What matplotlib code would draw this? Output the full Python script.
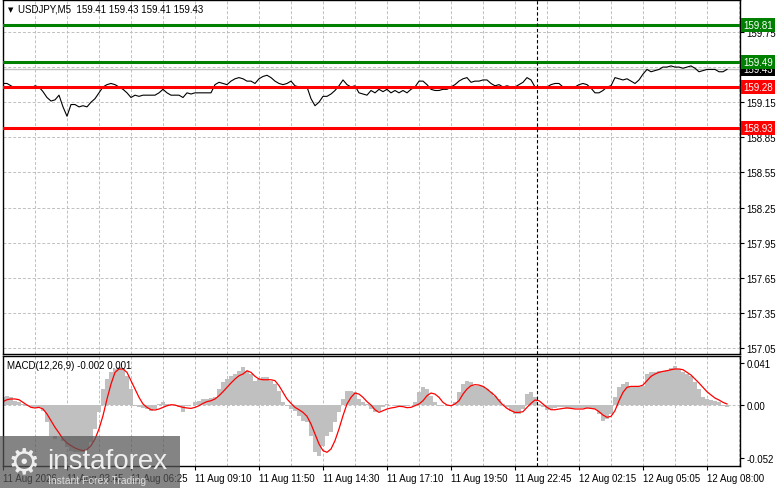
import matplotlib
matplotlib.use("Agg")
import matplotlib.pyplot as plt
import matplotlib.transforms as mtransforms
from matplotlib.patches import Rectangle
import numpy as np

plt.rcParams['font.family'] = ['Liberation Sans', 'DejaVu Sans']

# Cours de cloture USDJPY M5, une valeur tous les 2 bars
closes = [
    159.31, 159.31, 159.29, 159.27, 159.27, 159.27, 159.28, 159.27, 159.29, 159.28,
    159.24, 159.19, 159.16, 159.17, 159.21, 159.11, 159.03, 159.13, 159.13, 159.11,
    159.12, 159.11, 159.15, 159.18, 159.23, 159.28, 159.30, 159.31, 159.30, 159.28,
    159.26, 159.23, 159.19, 159.21, 159.20, 159.21, 159.21, 159.21, 159.21, 159.23,
    159.26, 159.23, 159.21, 159.21, 159.21, 159.19, 159.23, 159.22, 159.23, 159.23,
    159.23, 159.23, 159.23, 159.30, 159.32, 159.31, 159.30, 159.33, 159.35, 159.36,
    159.35, 159.33,
    159.33, 159.31, 159.35, 159.37, 159.38, 159.36, 159.33, 159.31, 159.30, 159.31,
    159.33, 159.29, 159.28, 159.28, 159.28, 159.18, 159.12, 159.15, 159.20, 159.20,
    159.22, 159.25, 159.29, 159.34, 159.30, 159.28, 159.29, 159.23, 159.22, 159.21,
    159.25, 159.23, 159.26, 159.24, 159.26, 159.23, 159.25, 159.23, 159.25, 159.23,
    159.26, 159.28, 159.33, 159.33, 159.30, 159.26, 159.25, 159.25, 159.26, 159.26,
    159.28, 159.30, 159.33, 159.35, 159.36, 159.32, 159.33, 159.33, 159.34, 159.34,
    159.31,
    159.29, 159.30, 159.28, 159.29, 159.28, 159.28, 159.30, 159.32, 159.36, 159.34,
    159.28, 159.28, 159.28, 159.28, 159.30, 159.31, 159.31, 159.28, 159.28, 159.28,
    159.28, 159.30, 159.31, 159.30, 159.27, 159.23, 159.23, 159.25, 159.28, 159.29,
    159.36, 159.35, 159.34, 159.35, 159.33, 159.31, 159.34, 159.39, 159.43, 159.41,
    159.42, 159.43, 159.45, 159.45, 159.46, 159.45, 159.45, 159.44, 159.45, 159.46,
    159.44, 159.41, 159.42, 159.43, 159.43, 159.43, 159.41, 159.41, 159.43,
]

# MACD (histogramme) et signal, en milliemes
macd_main = [
    7.5, 8.5, 7.5, 4.2, 2.6, 1.0, -0.7, -2.3, -2.3, -2.3,
    -5.5, -16.9, -29.9, -33.2, -29.9, -34.8, -41.3, -44.6, -46.2, -46.2,
    -46.2, -43.0, -36.5, -23.4, -7.2, 15.6, 25.4, 31.9, 35.2, 36.8,
    35.2, 28.6, 15.6, -0.7, -2.3, -3.3, -3.9, -5.5, -3.9, 1.0,
    2.6, 1.0, 0.0, -0.7, -2.3, -7.2, -0.7, 0.0, 2.6, 4.2,
    5.9, 5.9, 6.5, 7.5, 15.6, 22.1, 25.4, 28.6, 30.3, 33.5,
    36.8, 33.5, 30.3, 23.8, 25.4, 27.0, 27.0, 23.8, 20.5, 14.0,
    2.6, -0.7, -3.9, -5.5, -10.4, -15.3, -16.9, -29.9, -46.2, -49.5,
    -39.7, -29.9, -26.7, -16.9, -7.2, 5.9, 14.0, 14.0, 12.4, 5.9,
    2.6, 1.0,
    -3.9, -6.5, -5.5, -2.3, 1.0, 0.0, -0.7, -0.7, -1.3, -0.7,
    0.0, 2.6, 12.4, 17.3, 15.6, 9.1, 2.6, -0.7, 0.0, -0.7,
    -0.7, 2.6, 12.4, 20.5, 23.8, 22.1, 18.9, 18.9, 18.9, 15.6,
    12.4, 9.1, 5.9, 1.0, -2.3, -5.5, -8.8, -8.8, -3.9, 10.7,
    12.4, 7.5, 1.0, -2.3, -4.6, -3.9, -3.3, -2.3, -2.3, -3.3,
    -3.3, -3.3, -3.3, -3.3, -3.3, -3.3, -3.9, -8.8, -15.3, -13.7,
    -8.8, 7.5, 17.3, 20.5, 22.1, 18.9, 17.3, 17.3, 18.9, 30.3,
    31.9, 31.9, 33.5, 33.5, 34.5, 35.8, 37.8, 35.2, 32.6, 30.3,
    28.6, 22.1, 15.6, 7.5, 5.9, 5.2, 4.2, 2.6, -0.7, -2.0,
]
macd_signal = [
    3.3, 5.2, 5.9, 5.9, 5.2, 2.6, 0.0, -2.3, -2.9, -2.3,
    -3.9, -8.8, -15.3, -21.8, -27.3, -33.2, -37.1, -39.7, -42.0, -43.6,
    -44.6, -43.6, -39.7, -33.2, -23.4, -10.4, 5.9, 20.5, 31.9, 35.2,
    35.2, 31.9, 23.8, 15.6, 7.5, 1.0, -2.3, -4.6, -4.9, -3.9,
    -2.3, -0.7, 0.3, 0.0, -1.3, -2.3, -2.9, -3.3, -2.3, -0.7,
    1.6, 3.3, 4.2, 5.9, 9.1, 13.0, 17.3, 21.5, 25.4, 28.6,
    30.3, 33.5, 31.9, 28.0, 25.4, 24.7, 24.7, 24.7, 23.8, 18.9,
    12.4, 5.9, 1.6, -2.3, -4.6, -7.2, -11.1, -18.6, -28.3, -38.1,
    -44.6, -46.2, -43.0, -34.8, -23.4, -10.4, 1.0, 7.5, 11.7, 10.7,
    7.5, 3.3,
    0.0, -4.6, -7.2, -5.5, -3.9, -2.9, -2.3, -1.3, -1.6, -2.6,
    -2.3, -0.7, 1.0, 4.2, 9.1, 11.7, 10.7, 7.5, 2.6, 0.0,
    -0.7, 1.0, 4.2, 10.7, 15.6, 18.9, 19.9, 19.5, 18.2, 15.6,
    12.4, 9.1, 4.2, 0.0, -3.3, -5.5, -7.2, -7.2, -6.5, -2.3,
    1.6, 4.9, 4.2, 1.0, -2.3, -4.6, -4.6, -3.9, -3.3, -2.9,
    -3.3, -3.9, -3.9, -3.9, -2.9, -3.3, -3.9, -6.5, -9.8, -12.0,
    -11.1, -5.5, 4.2, 12.4, 17.3, 18.2, 18.2, 18.2, 19.5, 23.8,
    28.0, 30.3, 31.9, 32.9, 33.5, 34.5, 35.2, 35.2, 34.5, 31.9,
    29.3, 25.4, 21.5, 17.3, 13.0, 9.8, 6.8, 4.9, 2.6, 1.0,
]

# niveaux horizontaux
levels_green = [159.81, 159.49]
levels_red = [159.28, 158.93]
bid = 159.43

price_ticks = [159.75, 159.45, 159.15, 158.85, 158.55, 158.25, 157.95, 157.65, 157.35, 157.05]
price_labels = ['159.75', '', '159.15', '158.85', '158.55', '158.25', '157.95', '157.65', '157.35', '157.05']

time_ticks = [0, 32, 64, 96, 128, 160, 192, 224, 256, 288, 320, 352]
time_labels = ['11 Aug 2026', '11 Aug 03:45', '11 Aug 06:25', '11 Aug 09:10', '11 Aug 11:50',
               '11 Aug 14:30', '11 Aug 17:10', '11 Aug 19:50', '11 Aug 22:45', '12 Aug 02:15',
               '12 Aug 05:05', '12 Aug 08:00']

macd_ticks = [0.041, 0.0, -0.052]
macd_labels = ['0.041', '0.00', '-0.052']

separator_bar = 267

bars = np.arange(0, 2 * len(closes), 2)
hist = np.array(macd_main) / 1000
signal = np.array(macd_signal) / 1000

W, H = 781, 489
GRID = '#c0c0c0'
GREEN = '#008000'
RED = '#ff0000'
FS = 7

fig = plt.figure(figsize=(W / 100, H / 100), dpi=100)
ax = fig.add_axes([3 / W, 1 - 355 / H, 737 / W, 354 / H])
ax2 = fig.add_axes([3 / W, 1 - 467 / H, 737 / W, 110 / H])

for a in (ax, ax2):
    a.set_xlim(0, 368.5)
    for s in a.spines.values():
        s.set_color('black')
        s.set_linewidth(1)
    for xg in range(16, 369, 16):
        a.axvline(xg, color=GRID, lw=0.7, dashes=(3, 2), zorder=0)
    a.axvline(separator_bar, color='black', lw=0.8, dashes=(3, 2), zorder=4)
    a.yaxis.tick_right()
    a.tick_params(axis='y', length=3, width=0.8, pad=1.5, labelsize=FS, colors='black')

# fenetre principale
ax.set_ylim(156.999, 160.023)
for p in price_ticks:
    ax.axhline(p, color=GRID, lw=0.7, dashes=(3, 2), zorder=0)
ax.set_yticks(price_ticks)
ax.set_yticklabels(price_labels)
ax.set_xticks([])

ax.axhline(bid, color=GRID, lw=1, zorder=1)
ax.plot(bars, closes, color='black', lw=0.8, zorder=2)
for lv in levels_green:
    ax.axhline(lv, color=GREEN, lw=2.2, zorder=3)
for lv in levels_red:
    ax.axhline(lv, color=RED, lw=2.2, zorder=3)

# etiquettes des niveaux (le prix bid passe sous le vert)
trans = mtransforms.blended_transform_factory(ax.transAxes, ax.transData)
for k, (lv, col) in enumerate([(bid, 'black'), (levels_green[0], GREEN), (levels_green[1], GREEN),
                               (levels_red[0], RED), (levels_red[1], RED)]):
    ax.text(1.004, lv, f'{lv:.2f}', transform=trans, ha='left', va='center',
            fontsize=FS, color='white', clip_on=False, zorder=6 + k * 0.1,
            bbox=dict(boxstyle='square,pad=0.2', fc=col, ec='none'))

fig.text(8 / W, 1 - 10 / H, '\u25bc', fontsize=5, va='center', ha='left',
         family='DejaVu Sans')
fig.text(18 / W, 1 - 10 / H, 'USDJPY,M5  159.41 159.43 159.41 159.43',
         fontsize=FS, va='center', ha='left')

# fenetre MACD
ax2.set_ylim(-0.0596, 0.0479)
ax2.axhline(0, color=GRID, lw=0.7, dashes=(3, 2), zorder=0)
ax2.bar(bars, hist, width=2, color='#c0c0c0', lw=0, zorder=1)
ax2.plot(bars, signal, color=RED, lw=0.9, zorder=2)
ax2.set_yticks(macd_ticks)
ax2.set_yticklabels(macd_labels)
ax2.set_xticks(time_ticks)
ax2.set_xticklabels(time_labels)
ax2.tick_params(axis='x', length=3, width=0.8, pad=2, labelsize=FS)
for lab in ax2.get_xticklabels():
    lab.set_horizontalalignment('left')

fig.text(7 / W, 1 - 366 / H, 'MACD(12,26,9) -0.002 0.001', fontsize=FS,
         va='center', ha='left')

# filigrane instaforex
fig.patches.append(Rectangle((0, 0), 180 / W, 52 / H, transform=fig.transFigure,
                             fc='#555555', alpha=0.72, ec='none', zorder=10))
fig.text(24 / W, 1 - 463 / H, '\u2699', fontsize=26, color='#eeeeee', ha='center',
         va='center', family='DejaVu Sans', zorder=11)
fig.text(47 / W, 1 - 462 / H, 'instaforex', fontsize=20, color='#eeeeee',
         ha='left', va='center', zorder=11)
fig.text(48 / W, 1 - 481 / H, 'Instant Forex Trading', fontsize=7.5, color='#dddddd',
         ha='left', va='center', zorder=11)

fig.savefig('out.png', dpi=100)
